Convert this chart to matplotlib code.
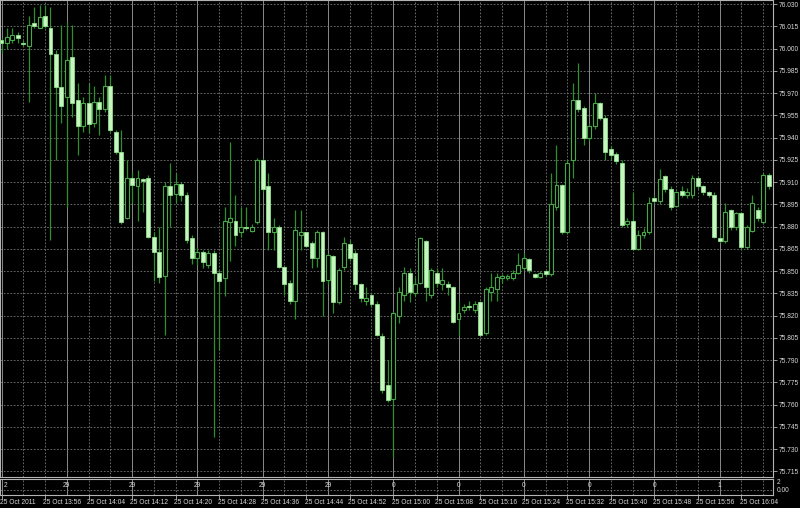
import numpy as np
import matplotlib.pyplot as plt
from matplotlib.transforms import blended_transform_factory

# 1-minute bars, 25 Oct 2011 13:48 .. 16:09
opens = [76.006, 76.004, 76.006, 76.009, 76.004, 76.002, 76.017, 76.014, 76.022, 76.014,
         75.996, 75.974, 75.967, 75.994, 75.965, 75.948, 75.963, 75.950, 75.964, 75.959,
         75.975, 75.944, 75.930, 75.886, 75.913, 75.907, 75.912, 75.913, 75.873, 75.863,
         75.847, 75.907, 75.902, 75.909, 75.901, 75.872, 75.859, 75.863, 75.854, 75.862,
         75.849, 75.845, 75.883, 75.884, 75.876, 75.880, 75.877, 75.883, 75.925, 75.907,
         75.876, 75.880, 75.853, 75.842, 75.830, 75.874, 75.876, 75.869, 75.859, 75.876,
         75.844, 75.860, 75.829, 75.853, 75.868, 75.862, 75.841, 75.830, 75.834, 75.828,
         75.806, 75.773, 75.764, 75.820, 75.834, 75.849, 75.835, 75.842, 75.870, 75.834,
         75.849, 75.841, 75.841, 75.839, 75.818, 75.824, 75.826, 75.824, 75.829, 75.808,
         75.836, 75.838, 75.845, 75.845, 75.845, 75.849, 75.852, 75.858, 75.848, 75.846,
         75.850, 75.848, 75.893, 75.908, 75.876, 75.925, 75.965, 75.960, 75.940, 75.948,
         75.963, 75.953, 75.932, 75.929, 75.923, 75.882, 75.884, 75.865, 75.874, 75.876,
         75.899, 75.897, 75.914, 75.905, 75.894, 75.904, 75.901, 75.901, 75.913, 75.907,
         75.903, 75.901, 75.872, 75.870, 75.891, 75.880, 75.889, 75.866, 75.877, 75.891,
         75.883, 75.915]
highs = [76.007, 76.014, 76.014, 76.011, 76.006, 76.022, 76.028, 76.029, 76.029, 76.028,
         75.999, 76.016, 76.018, 76.016, 75.977, 75.967, 75.977, 75.975, 75.967, 75.982,
         75.982, 75.945, 75.945, 75.925, 75.917, 75.918, 75.913, 75.915, 75.876, 75.880,
         75.910, 75.923, 75.916, 75.910, 75.903, 75.874, 75.866, 75.864, 75.864, 75.864,
         75.851, 75.893, 75.937, 75.901, 75.893, 75.893, 75.882, 75.926, 75.926, 75.916,
         75.886, 75.881, 75.854, 75.844, 75.891, 75.891, 75.876, 75.870, 75.878, 75.877,
         75.862, 75.861, 75.852, 75.873, 75.871, 75.864, 75.842, 75.839, 75.835, 75.830,
         75.808, 75.790, 75.823, 75.839, 75.853, 75.852, 75.846, 75.873, 75.871, 75.852,
         75.852, 75.852, 75.843, 75.840, 75.830, 75.828, 75.830, 75.830, 75.830, 75.839,
         75.849, 75.849, 75.848, 75.848, 75.851, 75.862, 75.862, 75.859, 75.849, 75.850,
         75.851, 75.916, 75.935, 75.909, 75.925, 75.977, 75.990, 75.961, 75.950, 75.970,
         75.964, 75.955, 75.934, 75.930, 75.925, 75.886, 75.903, 75.878, 75.879, 75.900,
         75.901, 75.919, 75.915, 75.907, 75.904, 75.907, 75.906, 75.915, 75.914, 75.908,
         75.904, 75.903, 75.874, 75.896, 75.892, 75.890, 75.890, 75.881, 75.901, 75.893,
         75.916, 75.916]
lows = [75.997, 76.000, 76.004, 76.004, 76.002, 75.964, 76.014, 76.014, 76.014, 75.871,
        75.925, 75.950, 75.893, 75.954, 75.928, 75.944, 75.943, 75.947, 75.942, 75.957,
        75.944, 75.929, 75.882, 75.885, 75.896, 75.884, 75.890, 75.872, 75.843, 75.842,
        75.807, 75.880, 75.896, 75.897, 75.869, 75.855, 75.854, 75.852, 75.852, 75.738,
        75.797, 75.833, 75.857, 75.867, 75.873, 75.878, 75.876, 75.882, 75.903, 75.864,
        75.864, 75.852, 75.834, 75.828, 75.818, 75.864, 75.866, 75.852, 75.853, 75.820,
        75.841, 75.822, 75.828, 75.851, 75.857, 75.837, 75.829, 75.827, 75.826, 75.806,
        75.768, 75.762, 75.724, 75.815, 75.830, 75.829, 75.833, 75.841, 75.830, 75.832,
        75.839, 75.837, 75.834, 75.815, 75.807, 75.822, 75.824, 75.822, 75.806, 75.807,
        75.830, 75.830, 75.842, 75.844, 75.844, 75.848, 75.851, 75.849, 75.845, 75.845,
        75.847, 75.847, 75.891, 75.875, 75.875, 75.913, 75.957, 75.935, 75.938, 75.946,
        75.952, 75.925, 75.925, 75.922, 75.880, 75.880, 75.864, 75.864, 75.872, 75.875,
        75.896, 75.895, 75.903, 75.891, 75.893, 75.900, 75.899, 75.899, 75.905, 75.901,
        75.900, 75.872, 75.869, 75.869, 75.878, 75.878, 75.865, 75.865, 75.876, 75.884,
        75.882, 75.905]
closes = [76.004, 76.008, 76.009, 76.007, 76.003, 76.016, 76.015, 76.021, 76.015, 75.996,
          75.974, 75.961, 75.992, 75.963, 75.948, 75.963, 75.949, 75.964, 75.959, 75.975,
          75.945, 75.930, 75.883, 75.913, 75.908, 75.913, 75.911, 75.873, 75.863, 75.846,
          75.907, 75.901, 75.909, 75.901, 75.871, 75.859, 75.863, 75.856, 75.862, 75.849,
          75.843, 75.884, 75.886, 75.874, 75.880, 75.879, 75.880, 75.925, 75.905, 75.876,
          75.880, 75.853, 75.841, 75.830, 75.878, 75.876, 75.867, 75.859, 75.876, 75.843,
          75.861, 75.829, 75.851, 75.869, 75.859, 75.841, 75.832, 75.832, 75.828, 75.807,
          75.770, 75.763, 75.822, 75.836, 75.849, 75.836, 75.841, 75.872, 75.839, 75.851,
          75.842, 75.844, 75.839, 75.816, 75.822, 75.826, 75.826, 75.828, 75.807, 75.838,
          75.839, 75.846, 75.847, 75.847, 75.849, 75.854, 75.859, 75.851, 75.846, 75.849,
          75.848, 75.895, 75.908, 75.876, 75.923, 75.965, 75.959, 75.940, 75.948, 75.963,
          75.953, 75.930, 75.928, 75.924, 75.881, 75.884, 75.865, 75.874, 75.876, 75.896,
          75.897, 75.912, 75.905, 75.893, 75.903, 75.901, 75.903, 75.913, 75.907, 75.903,
          75.901, 75.873, 75.870, 75.890, 75.880, 75.889, 75.866, 75.880, 75.896, 75.886,
          75.915, 75.907]

price_ticks = [75.715, 75.730, 75.745, 75.760, 75.775, 75.790, 75.805, 75.820, 75.835, 75.850,
               75.865, 75.880, 75.895, 75.910, 75.925, 75.940, 75.955, 75.970, 75.985, 76.000,
               76.015, 76.030]
time_pos = [0, 8, 16, 24, 32, 40, 48, 56, 64, 72, 80, 88, 96, 104, 112, 120, 128, 136]
time_labels = ['25 Oct 2011', '25 Oct 13:56', '25 Oct 14:04', '25 Oct 14:12', '25 Oct 14:20',
               '25 Oct 14:28', '25 Oct 14:36', '25 Oct 14:44', '25 Oct 14:52', '25 Oct 15:00',
               '25 Oct 15:08', '25 Oct 15:16', '25 Oct 15:24', '25 Oct 15:32', '25 Oct 15:40',
               '25 Oct 15:48', '25 Oct 15:56', '25 Oct 16:04']
sub_pos = [0, 12, 24, 36, 48, 60, 72, 84, 96, 108, 120, 132]
sub_labels = ['2', '29', '29', '29', '29', '29', '0', '0', '0', '0', '0', '1']

o = np.array(opens); h = np.array(highs); l = np.array(lows); c = np.array(closes)
x = np.arange(len(o))

bg = 'black'
txt = '#d8d8d8'
frame = '#b4b4b4'
wick = '#2f8f2f'
edge_up = '#48a848'
fill_dn = '#c6f5c0'
edge_dn = '#8ee08a'

fig = plt.figure(figsize=(8, 5.08), dpi=100, facecolor=bg)
ax = fig.add_axes([0, 1 - 477 / 508, 773 / 800, 477 / 508], facecolor=bg)
axl = fig.add_axes([0, 13 / 508, 773 / 800, 16 / 508], facecolor=bg)

xlim = (-0.28, 141.8)
for a in (ax, axl):
    a.set_xlim(*xlim)
    for s in a.spines.values():
        s.set_color(frame)
        s.set_linewidth(0.8)
    # vertical grid, every 4 bars, solid every 12
    for i in range(0, len(o), 4):
        if i % 12 == 0:
            a.axvline(i, color='#8a8a8a', lw=0.7, zorder=0)
        else:
            a.axvline(i, color='#7a7a7a', lw=0.6, ls=(0, (2, 2)), zorder=0)

ax.set_ylim(75.7112, 76.0327)
for p in price_ticks:
    ax.axhline(p, color='#7a7a7a', lw=0.6, ls=(0, (2, 2)), zorder=0)

# candles
ax.vlines(x, l, h, color=wick, lw=0.9, zorder=2)
bot = np.minimum(o, c)
hgt = np.maximum(np.abs(c - o), 0.0006)
up = c > o
dn = ~up
ax.bar(x[up], hgt[up], bottom=bot[up], width=0.72, color='black',
       edgecolor=edge_up, linewidth=0.8, zorder=3)
ax.bar(x[dn], hgt[dn], bottom=bot[dn], width=0.72, color=fill_dn,
       edgecolor=edge_dn, linewidth=0.6, zorder=3)

ax.set_xticks([])
ax.yaxis.tick_right()
ax.set_yticks(price_ticks)
ax.set_yticklabels(['%.3f' % p for p in price_ticks])
ax.tick_params(axis='y', colors=frame, labelcolor=txt, labelsize=4.8,
               length=3, width=0.6, pad=1)
for t in ax.get_yticklabels():
    t.set_family('Liberation Sans')

# lower panel
axl.set_ylim(0, 1)
axl.axhline(0.31, color='#7a7a7a', lw=0.6, ls=(0, (2, 2)), zorder=0)
axl.set_yticks([])
axl.set_xticks(time_pos)
axl.set_xticklabels([])
axl.tick_params(axis='x', colors=frame, length=3, width=0.6)
for pos, lab in zip(sub_pos, sub_labels):
    axl.text(pos + (0.4 if pos == 0 else 0), 0.62, lab, color=txt, fontsize=4.8,
             family='Liberation Sans', ha='left' if pos == 0 else 'center', va='center')
axl.text(1.005, 0.75, '2', color=txt, fontsize=4.8, family='Liberation Sans',
         transform=axl.transAxes, ha='left', va='center')
axl.text(1.005, 0.3, '0.00', color=txt, fontsize=4.8, family='Liberation Sans',
         transform=axl.transAxes, ha='left', va='center')

tr = blended_transform_factory(axl.transData, axl.transAxes)
for pos, lab in zip(time_pos, time_labels):
    axl.text(pos - 0.3, -0.45, lab, color=txt, fontsize=4.8, family='Liberation Sans',
             transform=tr, ha='left', va='center')

fig.savefig('out.png', dpi=100, facecolor=bg)
